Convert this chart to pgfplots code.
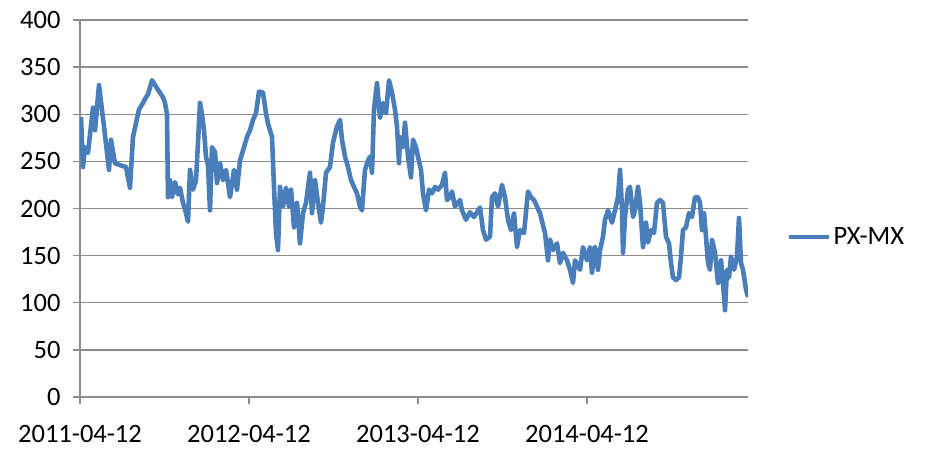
\documentclass[border=0pt]{standalone}
\usepackage{fontspec}
\setmainfont{Carlito}
\usepackage{pgfplots}
\pgfplotsset{compat=1.18}
\definecolor{excelblue}{HTML}{4A7EBB}
\definecolor{gridgray}{HTML}{8C8C8C}
\begin{document}
\begin{tikzpicture}
\begin{axis}[
  name=ax,
  scale only axis,
  width=668pt, height=377pt,
  xmin=0, xmax=668, ymin=0, ymax=400,
  axis x line*=bottom, axis y line*=left,
  axis line style={gridgray, line width=1.3pt, -},
  xtick={0,169,338,507},
  xticklabels={2011-04-12,2012-04-12,2013-04-12,2014-04-12},
  ytick={0,50,...,400},
  ymajorgrids,
  major grid style={gridgray, line width=1.3pt},
  tick style={gridgray, line width=1.3pt},
  tick align=outside,
  major tick length=7pt,
  font=\fontsize{26.5}{30}\selectfont,
  /pgf/number format/assume math mode=true,
  ticklabel style={font=\fontsize{26.5}{30}\selectfont, text=black},
  yticklabel style={xshift=-9pt},
  xticklabel style={yshift=-18pt},
  legend style={at={(1,0.424)}, anchor=west, xshift=36pt, draw=none, fill=none,
    font=\fontsize{26.5}{30}\selectfont},
  legend image code/.code={\draw[excelblue, line width=4.4pt] (0pt,0pt) -- (40pt,0pt);},
]
\addplot[excelblue, line width=4.6pt, line join=round] coordinates {
(1,297) (3,244) (5,265) (8,259) (13,307) (15,283) (19,331) (24,287) (29,241) (31,273)
(35,248) (40,246) (46,244) (50,222) (53,276) (59,305) (63,312) (66,318) (68,321) (72,336)
(78,326) (83,318) (85,312) (87,300) (88,212) (90,230) (92,212) (95,228) (98,215) (100,222)
(103,206) (106,195) (108,186) (110,241) (113,220) (116,230) (118,270) (120,312) (122,300) (124,283)
(126,255) (128,246) (130,198) (132,265) (135,260) (137,227) (140,248) (143,230) (146,241) (150,212)
(154,241) (157,220) (160,251) (164,265) (167,276) (170,283) (173,294) (176,301) (179,324) (183,323)
(186,301) (188,290) (192,276) (194,223) (196,174) (198,156) (200,223) (203,202) (206,222) (209,202)
(211,220) (214,180) (217,206) (220,163) (223,195) (226,206) (230,238) (232,195) (235,230) (238,206)
(241,185) (243,202) (246,238) (250,244) (253,270) (257,287) (260,294) (262,273) (265,255) (268,244)
(271,230) (274,223) (277,216) (280,202) (282,198) (285,241) (288,251) (290,255) (292,238) (294,305)
(297,333) (300,296) (303,312) (306,301) (309,336) (312,323) (315,305) (317,287) (319,248) (320,276)
(323,265) (325,291) (328,255) (331,233) (333,273) (336,265) (338,255) (341,241) (343,216) (346,198)
(349,220) (352,216) (355,223) (358,220) (362,225) (365,238) (367,209) (370,212) (372,218) (375,202)
(380,209) (382,198) (386,188) (390,196) (394,191) (400,201) (403,177) (406,167) (410,170) (412,212)
(415,216) (418,202) (422,225) (425,212) (428,188) (431,177) (434,195) (437,159) (440,177) (444,174)
(448,218) (451,212) (454,209) (457,202) (460,195) (465,174) (468,145) (470,167) (473,156) (477,163)
(480,142) (483,153) (487,145) (490,135) (493,121) (495,145) (500,135) (503,159) (507,145) (510,159)
(512,132) (515,159) (518,135) (520,156) (523,170) (525,188) (528,198) (532,185) (535,198) (538,212)
(540,241) (542,200) (543,153) (545,191) (548,220) (550,223) (553,191) (555,198) (558,223) (560,206)
(563,159) (566,185) (568,164) (571,177) (574,174) (577,206) (580,209) (583,206) (586,170) (589,163)
(591,142) (593,127) (596,124) (599,127) (601,149) (603,177) (606,180) (609,195) (612,191) (615,212)
(618,212) (620,206) (622,177) (624,195) (626,170) (628,142) (630,135) (632,167) (635,153) (638,121)
(641,145) (643,121) (645,92) (647,135) (649,127) (651,149) (654,135) (657,149) (659,190) (661,142)
(663,135) (666,114) (668,106)
};
\addlegendentry{PX-MX}
\end{axis}
\path (ax.south west) +(-80pt,-55pt) (ax.north east) +(182pt,20pt);
\end{tikzpicture}
\end{document}
